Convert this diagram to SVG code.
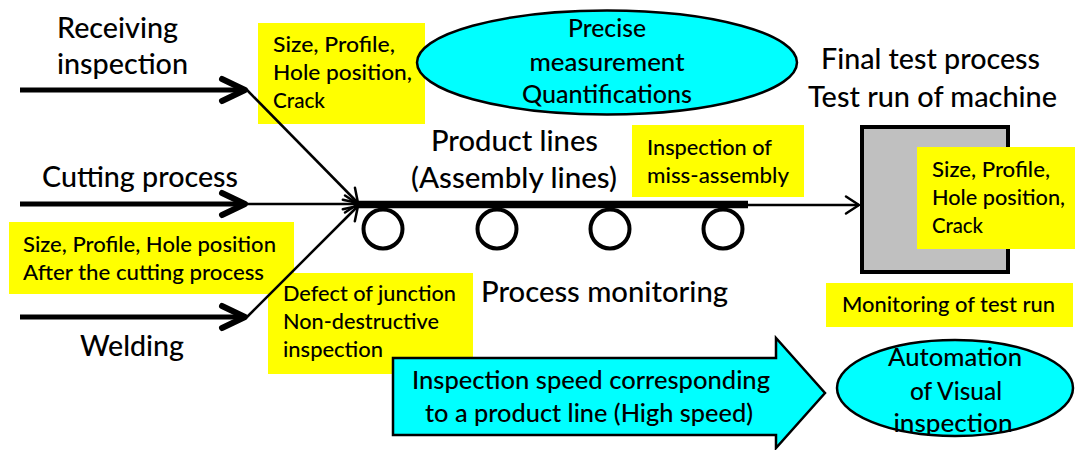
<svg xmlns="http://www.w3.org/2000/svg" width="1075" height="450" viewBox="0 0 1075 450">
  <style>
    text { font-family: Lato, "Open Sans", "Liberation Sans", sans-serif; font-weight: 500; fill: #000; }
    .head { font-size: 28px; }
    .note { font-size: 21px; }
    .big { font-size: 24px; }
    .mid { text-anchor: middle; }
    .tag { fill: #ffff00; }
    .cyan { fill: #00ffff; stroke: #000; stroke-width: 2.5; }
    .thick { stroke: #000; stroke-width: 5; fill: none; marker-end: url(#chevBig); }
    .thin { stroke: #000; stroke-width: 2.5; fill: none; marker-end: url(#chevSmall); }
  </style>
  <defs>
    <marker id="chevBig" markerUnits="userSpaceOnUse" markerWidth="30" markerHeight="30" viewBox="-27 -15 30 30" refX="0" refY="0" orient="auto" overflow="visible">
      <path d="M-23,-11 L0,0 L-23,11" fill="none" stroke="#000" stroke-width="6" stroke-linecap="round" stroke-linejoin="round"/>
    </marker>
    <marker id="chevSmall" markerUnits="userSpaceOnUse" markerWidth="20" markerHeight="20" viewBox="-16 -10 20 20" refX="0" refY="0" orient="auto" overflow="visible">
      <path d="M-13,-8.5 L0,0 L-13,8.5" fill="none" stroke="#000" stroke-width="2.5" stroke-linecap="round" stroke-linejoin="round"/>
    </marker>
  </defs>

  <rect width="1075" height="450" fill="#fff"/>

  <!-- inspection notes -->
  <g id="note-receiving">
    <rect class="tag" x="258" y="23" width="167" height="101"/>
    <text class="note" x="273" y="52" textLength="122" lengthAdjust="spacingAndGlyphs">Size, Profile,</text>
    <text class="note" x="273" y="80" textLength="139" lengthAdjust="spacingAndGlyphs">Hole position,</text>
    <text class="note" x="273" y="108" textLength="52" lengthAdjust="spacingAndGlyphs">Crack</text>
  </g>
  <g id="note-cutting">
    <rect class="tag" x="9" y="222" width="285" height="72"/>
    <text class="note" x="23" y="252" textLength="253" lengthAdjust="spacingAndGlyphs">Size, Profile, Hole position</text>
    <text class="note" x="23" y="280" textLength="241" lengthAdjust="spacingAndGlyphs">After the cutting process</text>
  </g>
  <g id="note-welding">
    <rect class="tag" x="268" y="273" width="205" height="101"/>
    <text class="note" x="283" y="301" textLength="173" lengthAdjust="spacingAndGlyphs">Defect of junction</text>
    <text class="note" x="283" y="329" textLength="156" lengthAdjust="spacingAndGlyphs">Non-destructive</text>
    <text class="note" x="283" y="357" textLength="100" lengthAdjust="spacingAndGlyphs">inspection</text>
  </g>
  <g id="note-assembly">
    <rect class="tag" x="632" y="125" width="172" height="72"/>
    <text class="note" x="647" y="155" textLength="125" lengthAdjust="spacingAndGlyphs">Inspection of</text>
    <text class="note" x="647" y="183" textLength="142" lengthAdjust="spacingAndGlyphs">miss-assembly</text>
  </g>

  <!-- process labels -->
  <g id="receiving-inspection">
    <text class="head" x="57" y="38" textLength="121" lengthAdjust="spacingAndGlyphs">Receiving</text>
    <text class="head" x="57" y="74" textLength="131" lengthAdjust="spacingAndGlyphs">inspection</text>
  </g>
  <g id="cutting-process">
    <text class="head" x="42" y="187" textLength="196" lengthAdjust="spacingAndGlyphs">Cutting process</text>
  </g>
  <g id="welding">
    <text class="head" x="80" y="356" textLength="104" lengthAdjust="spacingAndGlyphs">Welding</text>
  </g>

  <!-- top ellipse -->
  <g id="precise-measurement">
    <ellipse class="cyan" cx="607" cy="62.5" rx="190" ry="52"/>
    <text class="big mid" x="607" y="37" textLength="78" lengthAdjust="spacingAndGlyphs">Precise</text>
    <text class="big mid" x="607" y="71" textLength="155" lengthAdjust="spacingAndGlyphs">measurement</text>
    <text class="big mid" x="607" y="103" textLength="170" lengthAdjust="spacingAndGlyphs">Quantifications</text>
  </g>

  <!-- assembly line -->
  <g id="product-line">
    <text class="head" x="431" y="151" textLength="167" lengthAdjust="spacingAndGlyphs">Product lines</text>
    <text class="head" x="411" y="188" textLength="206" lengthAdjust="spacingAndGlyphs">(Assembly lines)</text>
    <line x1="358" y1="204.5" x2="748" y2="204.5" stroke="#000" stroke-width="7.5"/>
    <g fill="none" stroke="#000" stroke-width="4">
      <circle cx="383" cy="229" r="19.5"/>
      <circle cx="497" cy="229" r="19.5"/>
      <circle cx="610" cy="229" r="19.5"/>
      <circle cx="723" cy="229" r="19.5"/>
    </g>
    <text class="head" x="481" y="302" textLength="247" lengthAdjust="spacingAndGlyphs">Process monitoring</text>
  </g>

  <!-- final test -->
  <g id="final-test">
    <text class="head" x="821" y="69" textLength="219" lengthAdjust="spacingAndGlyphs">Final test process</text>
    <text class="head" x="808" y="107" textLength="249" lengthAdjust="spacingAndGlyphs">Test run of machine</text>
    <rect x="862" y="127" width="146" height="145" fill="#c0c0c0" stroke="#000" stroke-width="4"/>
    <rect class="tag" x="917" y="147" width="158" height="102"/>
    <text class="note" x="932" y="177" textLength="118" lengthAdjust="spacingAndGlyphs">Size, Profile,</text>
    <text class="note" x="932" y="205" textLength="133" lengthAdjust="spacingAndGlyphs">Hole position,</text>
    <text class="note" x="932" y="233" textLength="51" lengthAdjust="spacingAndGlyphs">Crack</text>
  </g>
  <g id="note-test-run">
    <rect class="tag" x="826" y="283" width="247" height="44"/>
    <text class="note" x="842" y="312" textLength="213" lengthAdjust="spacingAndGlyphs">Monitoring of test run</text>
  </g>

  <!-- connectors -->
  <g id="connectors">
    <line class="thick" x1="20" y1="90" x2="245" y2="90"/>
    <line class="thick" x1="20" y1="204" x2="245" y2="204"/>
    <line class="thick" x1="20" y1="317" x2="245" y2="317"/>
    <line class="thin" x1="247" y1="90" x2="358" y2="203"/>
    <line class="thin" x1="247" y1="204" x2="358" y2="204"/>
    <line class="thin" x1="247" y1="317" x2="358" y2="206"/>
    <line class="thin" x1="748" y1="205" x2="859" y2="205"/>
  </g>

  <!-- speed arrow -->
  <g id="inspection-speed">
    <polygon class="cyan" points="393,358 776,358 776,338 825,393 776,448 776,435 393,435"/>
    <text class="big" x="412" y="389" textLength="358" lengthAdjust="spacingAndGlyphs">Inspection speed corresponding</text>
    <text class="big" x="425" y="422" textLength="328" lengthAdjust="spacingAndGlyphs">to a product line (High speed)</text>
  </g>

  <!-- bottom ellipse -->
  <g id="visual-automation">
    <ellipse class="cyan" cx="955" cy="388" rx="118" ry="48"/>
    <text class="big mid" x="955" y="366" textLength="134" lengthAdjust="spacingAndGlyphs">Automation</text>
    <text class="big mid" x="956" y="400" textLength="92" lengthAdjust="spacingAndGlyphs">of Visual</text>
    <text class="big mid" x="953" y="432" textLength="119" lengthAdjust="spacingAndGlyphs">inspection</text>
  </g>
</svg>
